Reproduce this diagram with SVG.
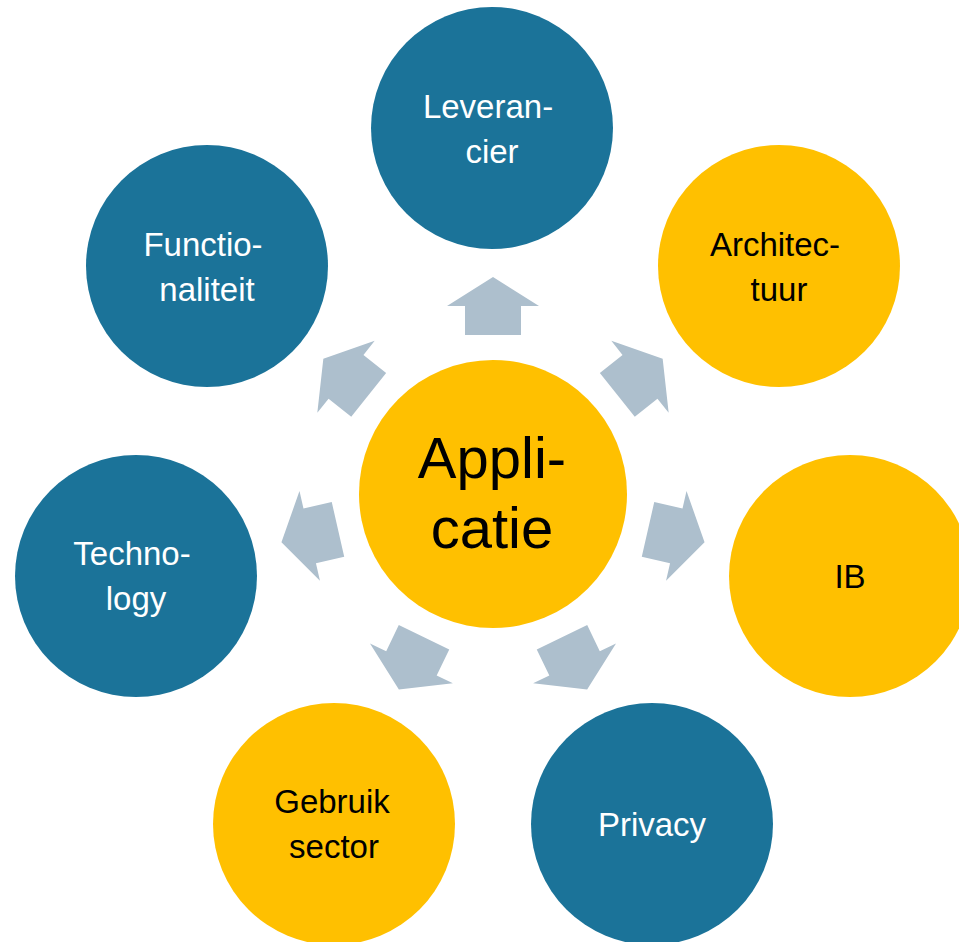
<svg xmlns="http://www.w3.org/2000/svg" width="959" height="942" viewBox="0 0 959 942">
<defs>
<style>
.blue{fill:#1B7399}
.yellow{fill:#FFC000}
.arrow{fill:#ADBFCD}
text{font-family:"Liberation Sans",Arial,sans-serif;font-size:33px;text-anchor:middle}
.w{fill:#FFFFFF}
.k{fill:#000000}
.big{font-size:58px}
</style>
<polygon id="arr" points="0,-217 46,-188 28,-188 28,-159 -28,-159 -28,-188 -46,-188"/>
</defs>
<rect width="959" height="942" fill="#FFFFFF"/>
<g id="connectors" class="arrow">
<use href="#arr" transform="translate(493 494)"/>
<use href="#arr" transform="translate(493 494) rotate(51.43)"/>
<use href="#arr" transform="translate(493 494) rotate(102.86)"/>
<use href="#arr" transform="translate(493 494) rotate(154.29)"/>
<use href="#arr" transform="translate(493 494) rotate(205.71)"/>
<use href="#arr" transform="translate(493 494) rotate(257.14)"/>
<use href="#arr" transform="translate(493 494) rotate(308.57)"/>
</g>
<g id="applicatie">
<circle class="yellow" cx="493" cy="494" r="134"/>
<text class="k big" x="492" y="478">Appli-</text>
<text class="k big" x="492" y="548">catie</text>
</g>
<g id="leverancier">
<circle class="blue" cx="492" cy="128" r="121"/>
<text class="w" x="488" y="118">Leveran-</text>
<text class="w" x="492" y="163">cier</text>
</g>
<g id="architectuur">
<circle class="yellow" cx="779" cy="266" r="121"/>
<text class="k" x="775" y="256">Architec-</text>
<text class="k" x="779" y="301">tuur</text>
</g>
<g id="ib">
<circle class="yellow" cx="850" cy="576" r="121"/>
<text class="k" x="850" y="588">IB</text>
</g>
<g id="privacy">
<circle class="blue" cx="652" cy="824" r="121"/>
<text class="w" x="652" y="836">Privacy</text>
</g>
<g id="gebruik-sector">
<circle class="yellow" cx="334" cy="824" r="121"/>
<text class="k" x="332" y="813">Gebruik</text>
<text class="k" x="334" y="858">sector</text>
</g>
<g id="technology">
<circle class="blue" cx="136" cy="576" r="121"/>
<text class="w" x="132" y="565">Techno-</text>
<text class="w" x="136" y="610">logy</text>
</g>
<g id="functionaliteit">
<circle class="blue" cx="207" cy="266" r="121"/>
<text class="w" x="203" y="256">Functio-</text>
<text class="w" x="207" y="301">naliteit</text>
</g>
</svg>
